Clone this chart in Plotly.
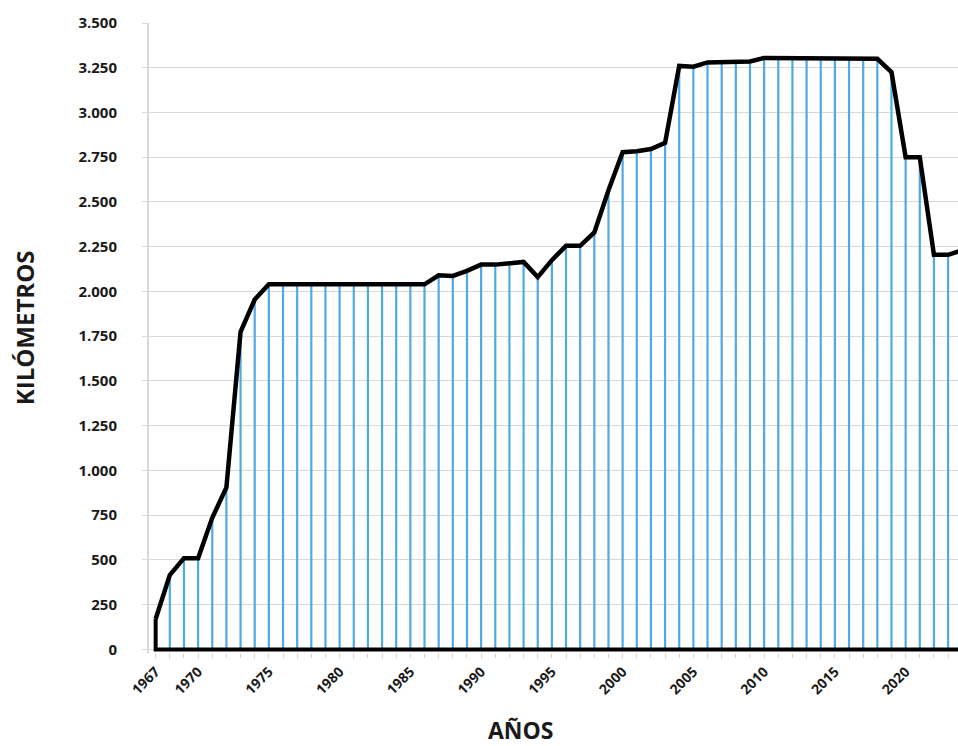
import plotly.graph_objects as go

years = list(range(1967, 2025))
km = [170, 415, 510, 510, 735, 905, 1775, 1955, 2040, 2040,
      2040, 2040, 2040, 2040, 2040, 2040, 2040, 2040, 2040, 2040,
      2090, 2087, 2115, 2150, 2150, 2160, 2165, 2080, 2175, 2255,
      2255, 2330, 2565, 2778, 2783, 2796, 2830, 3260, 3256, 3280,
      3280, 3280, 3285, 3305, 3305, 3305, 3305, 3305, 3305, 3305,
      3305, 3300, 3225, 2750, 2750, 2205, 2205, 2230]
label_years = [1967, 1970, 1975, 1980, 1985, 1990, 1995, 2000, 2005, 2010, 2015, 2020]
y_ticks = list(range(0, 3501, 250))

FONT = "Open Sans"
BLUE = "#4EAAE3"
TXT = "#1a1a1a"

# vertical blue stems
sx, sy = [], []
for yr, v in zip(years, km):
    sx += [yr, yr, None]
    sy += [0, v, None]

fig = go.Figure()
fig.add_trace(go.Scatter(x=sx, y=sy, mode="lines",
                         line=dict(color=BLUE, width=2.2), hoverinfo="skip",
                         showlegend=False))
# outline: baseline, left edge and top line
fig.add_trace(go.Scatter(x=[years[-1], years[0], years[0]], y=[0, 0, km[0]],
                         mode="lines", line=dict(color="black", width=4),
                         showlegend=False, hoverinfo="skip"))
fig.add_trace(go.Scatter(x=years, y=km, mode="lines",
                         line=dict(color="black", width=4.5),
                         showlegend=False))

fig.update_layout(
    width=958, height=746,
    margin=dict(l=149, r=0, t=23, b=93),
    plot_bgcolor="white", paper_bgcolor="white",
    separators=",.",
    font=dict(family=FONT, color=TXT),
    xaxis=dict(range=[1966.53, 2023.7],
               tickmode="array", tickvals=years,
               ticktext=[str(y) if y in label_years else "" for y in years],
               tickangle=-45, ticks="outside", ticklen=4, tickcolor="#d0d0d0",
               showgrid=False, zeroline=False, showline=False,
               tickfont=dict(family=FONT, size=14, color=TXT, weight="bold")),
    yaxis=dict(range=[-20, 3500], tickmode="array", tickvals=y_ticks,
               tickformat=",d", ticks="outside", ticklen=5, tickcolor="#d9d9d9",
               showgrid=True, gridcolor="#d9d9d9", gridwidth=1.3,
               zeroline=False, showline=True, linecolor="#d9d9d9", linewidth=2,
               ticklabelstandoff=22,
               tickfont=dict(family=FONT, size=15, color=TXT, weight="bold")),
    annotations=[
        dict(text="KILÓMETROS", xref="paper", yref="paper", x=-0.1545, y=0.5156,
             xanchor="center", yanchor="middle", textangle=-90, showarrow=False,
             font=dict(family=FONT, size=24, color=TXT, weight="bold")),
        dict(text="AÑOS", xref="paper", yref="paper", x=0.46, y=-0.122,
             xanchor="center", yanchor="middle", showarrow=False,
             font=dict(family=FONT, size=23, color=TXT, weight="bold")),
    ],
)

fig.write_html("out.html",
               config={"displayModeBar": False},
               post_script="document.body.style.margin='0';"
                           "document.body.style.overflow='hidden';")
